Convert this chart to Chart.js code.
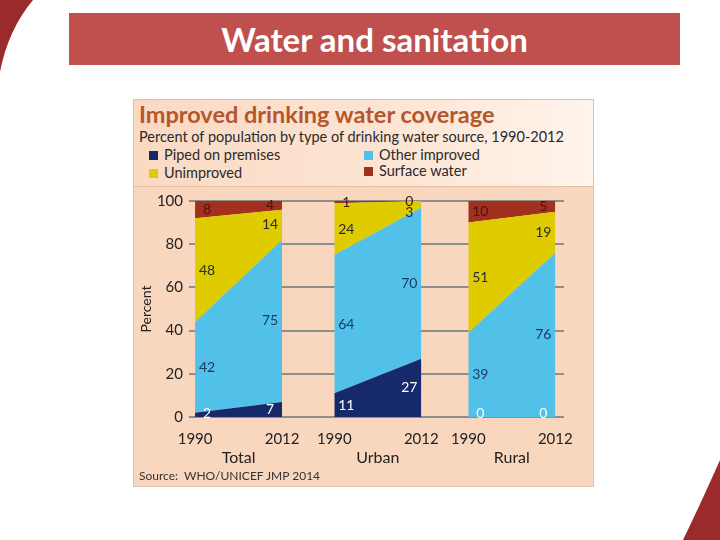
<!DOCTYPE html>
<html>
<head>
<meta charset="utf-8">
<script src="https://cdn.jsdelivr.net/npm/chart.js@4.4.0/dist/chart.umd.min.js"></script>
<style>
    body { margin: 0; background: #fff; }
    #slide { position: relative; width: 720px; height: 540px; overflow: hidden; font-family: Lato, "Open Sans", sans-serif; }
    #banner { position: absolute; left: 69px; top: 13px; width: 611px; height: 52px; background: #c0504d; color: #fff;
              font-size: 33px; font-weight: bold; text-align: center; line-height: 52px; }
    #figure { position: absolute; left: 133px; top: 99px; width: 459px; height: 386px; background: #f9d6be; border: 1px solid #d8c4b6; }
    #header { position: absolute; left: 0; top: 0; width: 459px; height: 86px;
              background: linear-gradient(to right, #fad9c2, #fce6d6 60%, #fff4ec); border-bottom: 1px solid #e6bfa3; }
    #header .title { position: absolute; left: 5px; top: 0px; font-size: 23.5px; font-weight: bold; color: #b5572d; }
    #header .sub { position: absolute; left: 5px; top: 28px; font-size: 14.5px; color: #2a2a2a; }
    .key { position: absolute; font-size: 14.5px; color: #2a2a2a; }
    .key span { display: inline-block; width: 9px; height: 9px; margin-right: 6px; }
    #source { position: absolute; left: 5px; top: 368px; font-size: 12px; color: #333; }
    #chartBox { position: absolute; left: 0; top: 86px; width: 460px; height: 301px; }
</style>
</head>
<body>
<div id="slide">
    <svg width="720" height="540" style="position:absolute;left:0;top:0">
        <path d="M0,0 L33,0 Q8,30 0,72 Z" fill="#9b2a2d"/>
        <path d="M720,460 Q700,505 683,540 L720,540 Z" fill="#9b2a2d"/>
    </svg>
    <div id="banner">Water and sanitation</div>
    <div id="figure">
        <div id="header">
            <div class="title">Improved drinking water coverage</div>
            <div class="sub">Percent of population by type of drinking water source, 1990-2012</div>
            <div id="legend"></div>
        </div>
        <div id="chartBox"><canvas id="waterChart" width="460" height="301"></canvas></div>
        <div id="source">Source:&nbsp; WHO/UNICEF JMP 2014</div>
    </div>
</div>
<script>
const groups = ['Total', 'Urban', 'Rural'];
const years = ['1990', '2012'];
const piped = [[2, 7], [11, 27], [0, 0]];
const otherImproved = [[42, 75], [64, 70], [39, 76]];
const unimproved = [[48, 14], [24, 3], [51, 19]];
const surfaceWater = [[8, 4], [1, 0], [10, 5]];
const yTicks = [0, 20, 40, 60, 80, 100];

// where each panel starts on the x scale (1 unit = one panel width)
const groupStart = [0, 1.6, 3.14];

const series = [
    { name: 'Piped on premises', values: piped, color: '#15296b', text: '#ffffff' },
    { name: 'Other improved', values: otherImproved, color: '#52c1ea', text: '#1c3b60' },
    { name: 'Unimproved', values: unimproved, color: '#dfcc00', text: '#2b2b2b' },
    { name: 'Surface water', values: surfaceWater, color: '#a1301f', text: '#4a140c' }
];

// legend in two columns, same order as the original
const legendSpots = [[15, 46], [230, 46], [15, 64], [230, 62]];
const legend = document.getElementById('legend');
series.forEach((s, i) => {
    const el = document.createElement('div');
    el.className = 'key';
    el.style.left = legendSpots[i][0] + 'px';
    el.style.top = legendSpots[i][1] + 'px';
    el.innerHTML = `<span style="background:${s.color}"></span>${s.name}`;
    legend.appendChild(el);
});

const datasets = [];
groups.forEach((group, g) => {
    series.forEach((s, k) => {
        datasets.push({
            label: group + ' ' + s.name,
            data: years.map((yr, i) => ({ x: groupStart[g] + i, y: s.values[g][i] })),
            backgroundColor: s.color,
            borderWidth: 0,
            pointRadius: 0,
            tension: 0,
            fill: k === 0 ? 'origin' : '-1'
        });
    });
});

const yearTicks = [];
const groupTicks = [];
groupStart.forEach(x0 => {
    yearTicks.push(x0, x0 + 1);
    groupTicks.push(x0 + 0.5);
});

const bandLabels = {
    id: 'bandLabels',
    afterDatasetsDraw(chart) {
        const ctx = chart.ctx;
        const yScale = chart.scales.y;
        const base = yScale.getPixelForValue(0);
        ctx.save();
        ctx.font = '14px Lato, sans-serif';
        ctx.textAlign = 'center';
        ctx.textBaseline = 'middle';
        chart.data.datasets.forEach((ds, d) => {
            const g = Math.floor(d / series.length);
            const k = d % series.length;
            const meta = chart.getDatasetMeta(d);
            const below = k === 0 ? null : chart.getDatasetMeta(d - 1);
            meta.data.forEach((pt, i) => {
                const bottom = below ? below.data[i].y : base;
                let y = (pt.y + bottom) / 2;
                if (k === 2) y = Math.max(y, pt.y + 11);
                y = Math.min(y, base - 4);
                const x = pt.x + (i === 0 ? 12 : -12);
                ctx.fillStyle = series[k].text;
                ctx.fillText(String(series[k].values[g][i]), x, y);
            });
        });
        ctx.restore();
    }
};

new Chart(document.getElementById('waterChart'), {
    type: 'line',
    data: { datasets: datasets },
    plugins: [bandLabels],
    options: {
        responsive: false,
        animation: false,
        layout: { padding: { top: 15, right: 30, left: 0, bottom: 0 } },
        plugins: { legend: { display: false }, tooltip: { enabled: false } },
        scales: {
            x: {
                type: 'linear', min: -0.07, max: 4.24,
                grid: { display: false, drawTicks: false }, border: { display: false },
                afterBuildTicks: axis => { axis.ticks = yearTicks.map(v => ({ value: v })); },
                afterFit: axis => { axis.height = 30; },
                ticks: {
                    autoSkip: false, maxRotation: 0, padding: 13,
                    color: '#222', font: { size: 15, family: 'Lato' },
                    callback: (v, i) => years[i % 2]
                }
            },
            x2: {
                type: 'linear', position: 'bottom', min: -0.07, max: 4.24,
                grid: { display: false, drawTicks: false }, border: { display: false },
                afterBuildTicks: axis => { axis.ticks = groupTicks.map(v => ({ value: v })); },
                afterFit: axis => { axis.height = 40; },
                ticks: {
                    autoSkip: false, maxRotation: 0, padding: 1,
                    color: '#222', font: { size: 16, family: 'Lato' },
                    callback: (v, i) => groups[i]
                }
            },
            y: {
                stacked: true, min: 0, max: 100,
                afterBuildTicks: axis => { axis.ticks = yTicks.map(v => ({ value: v })); },
                afterFit: axis => { axis.width = 55; },
                grid: { color: '#8e8e8e', lineWidth: 2, drawTicks: false },
                border: { display: false },
                ticks: { padding: 6, color: '#222', font: { size: 15, family: 'Lato' } },
                title: { display: true, text: 'Percent', color: '#222', font: { size: 14, family: 'Lato' }, padding: { top: 4, bottom: 0 } }
            }
        }
    }
});
</script>
</body>
</html>
